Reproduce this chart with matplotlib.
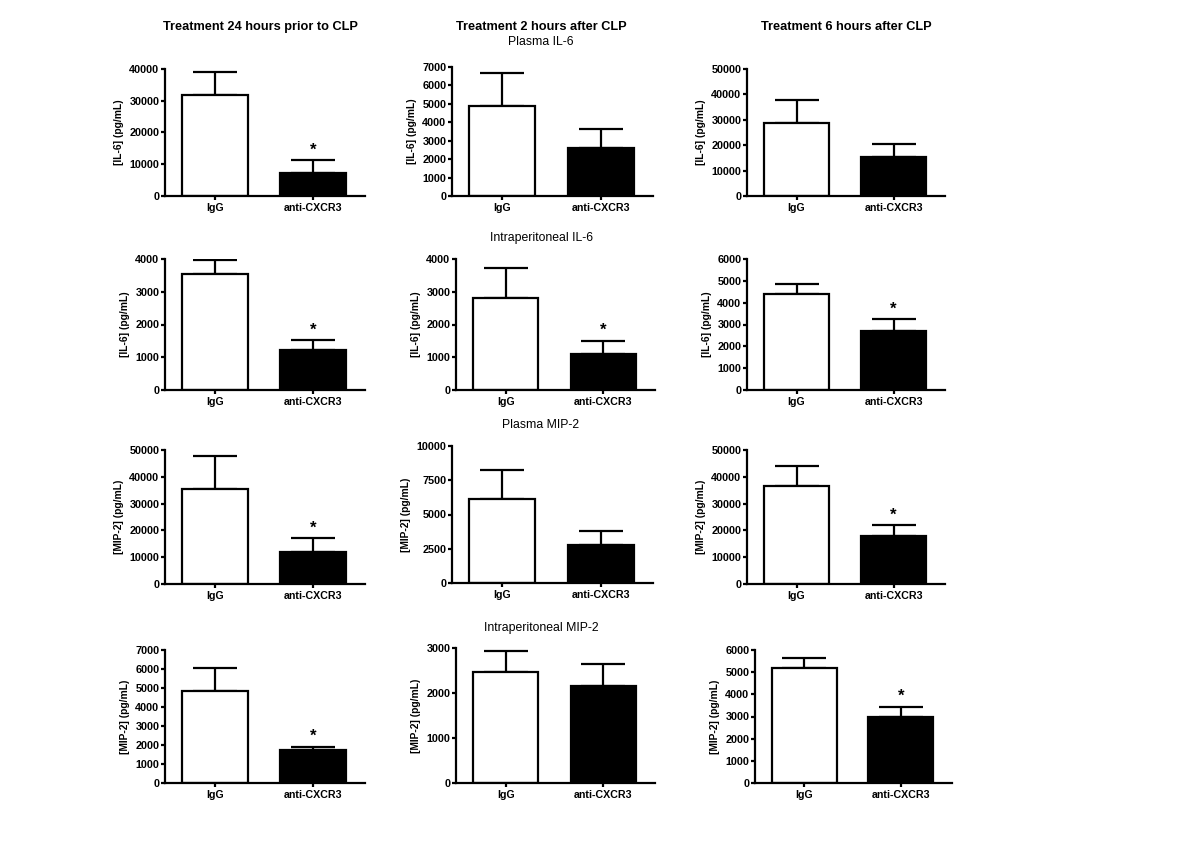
import matplotlib
matplotlib.use("Agg")
import matplotlib.pyplot as plt
import numpy as np

plt.rcParams['font.family'] = ['Liberation Sans', 'DejaVu Sans']

groups = ["IgG", "anti-CXCR3"]
col_titles = ["Treatment 24 hours prior to CLP", "Treatment 2 hours after CLP", "Treatment 6 hours after CLP"]
row_titles = ["Plasma IL-6", "Intraperitoneal IL-6", "Plasma MIP-2", "Intraperitoneal MIP-2"]
ylabels = ["[IL-6] (pg/mL)", "[IL-6] (pg/mL)", "[MIP-2] (pg/mL)", "[MIP-2] (pg/mL)"]

# means [IgG, anti-CXCR3] per row, per column
means = [
    [[31700, 7200], [4900, 2600], [28700, 15200]],
    [[3550, 1230], [2820, 1110], [4400, 2720]],
    [[35300, 12000], [6150, 2750], [36700, 18000]],
    [[4830, 1730], [2460, 2160], [5170, 3000]],
]
# upper error (SEM)
errs = [
    [[7500, 4000], [1800, 1050], [9100, 5400]],
    [[430, 300], [910, 390], [450, 530]],
    [[12300, 5000], [2100, 1050], [7500, 4000]],
    [[1220, 170], [470, 480], [450, 450]],
]
signif = [
    [[False, True], [False, False], [False, False]],
    [[False, True], [False, True], [False, True]],
    [[False, True], [False, False], [False, True]],
    [[False, True], [False, False], [False, True]],
]
ymax = [
    [40000, 7000, 50000],
    [4000, 4000, 6000],
    [50000, 10000, 50000],
    [7000, 3000, 6000],
]
ystep = [
    [10000, 1000, 10000],
    [1000, 1000, 1000],
    [10000, 2500, 10000],
    [1000, 1000, 1000],
]

W, H = 1200, 849
fig = plt.figure(figsize=(W / 100, H / 100), dpi=100)

col_x = [(165, 365), (452, 653), (747, 945)]
row_y = [(69, 196), (259, 390), (450, 584), (650, 783)]
row_y_overrides = {(0, 1): (67, 196), (2, 1): (446, 583), (3, 1): (648, 783)}
col_x_overrides = {(1, 1): (456, 655), (3, 1): (456, 655), (3, 2): (755, 952)}

lw = 1.6
for r in range(4):
    for c in range(3):
        x0, x1 = col_x_overrides.get((r, c), col_x[c])
        y0, y1 = row_y_overrides.get((r, c), row_y[r])
        ax = fig.add_axes([x0 / W, 1 - y1 / H, (x1 - x0) / W, (y1 - y0) / H])
        m = means[r][c]
        e = errs[r][c]
        pos = np.arange(len(groups))
        ax.bar(pos, m, width=0.67, color=["white", "black"], edgecolor="black",
               linewidth=lw, zorder=2)
        ax.errorbar(pos, m, yerr=[np.zeros(len(m)), e], fmt="none", ecolor="black",
                    elinewidth=lw, capsize=16, capthick=lw, zorder=1)
        for i in range(len(groups)):
            if signif[r][c][i]:
                ax.text(pos[i], m[i] + e[i] + ymax[r][c] * 0.02, "*", ha="center",
                        va="bottom", fontsize=12, fontweight="bold")
        ax.set_xlim(-0.51, 1.53)
        ax.set_ylim(0, ymax[r][c])
        ax.set_yticks(np.arange(0, ymax[r][c] + 1, ystep[r][c]))
        ax.set_xticks(pos)
        ax.set_xticklabels(groups, fontsize=7.7, fontweight="bold")
        for lab in ax.get_yticklabels():
            lab.set_fontsize(7.8)
            lab.set_fontweight("bold")
        ax.spines["top"].set_visible(False)
        ax.spines["right"].set_visible(False)
        ax.spines["left"].set_linewidth(lw)
        ax.spines["bottom"].set_linewidth(lw)
        ax.tick_params(axis="y", length=3, width=lw, pad=1)
        ax.tick_params(axis="x", length=3, width=lw, pad=2)
        ax.set_ylabel(ylabels[r], fontsize=7.4, fontweight="bold", labelpad=4)
        ax.patch.set_alpha(0)

col_cx = [260, 541, 846]
for c in range(3):
    fig.text(col_cx[c] / W, 1 - 27 / H, col_titles[c], ha="center", va="center",
             fontsize=9.2, fontweight="bold")
row_title_y = [42, 238, 425, 628]
for r in range(4):
    fig.text(541 / W, 1 - row_title_y[r] / H, row_titles[r], ha="center", va="center",
             fontsize=8.8)

fig.savefig("out.png", dpi=100, facecolor="white")
